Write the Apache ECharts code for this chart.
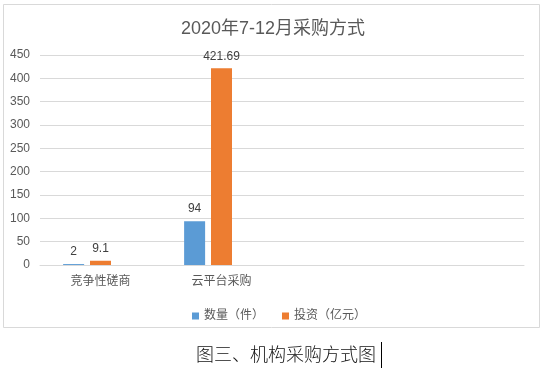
<!DOCTYPE html>
<html>
<head>
<meta charset="utf-8">
<script src="https://cdn.jsdelivr.net/npm/echarts@6/dist/echarts.min.js"></script>
<style>
html,body{margin:0;padding:0;background:#fff;}
#c{width:546px;height:375px;}
</style>
</head>
<body>
<div id="c"></div>
<script>
var titleText = '2020年7-12月采购方式';
var captionText = '图三、机构采购方式图';
var categories = ['竞争性磋商', '云平台采购', '', ''];
var countName = '数量（件）';
var countValues = [2, 94, null, null];
var investName = '投资（亿元）';
var investValues = [9.1, 421.69, null, null];
var hiddenValues = [null, null, null, null];
var yTicks = {min: 0, max: 450, interval: 50};

var FONT = "'Liberation Sans', 'Noto Sans CJK SC', sans-serif";
var chart = echarts.init(document.getElementById('c'), null, {renderer: 'canvas'});
var labelCfg = {show: true, position: 'top', distance: 6, color: '#404040', fontSize: 12, fontFamily: FONT};
chart.setOption({
  animation: false,
  backgroundColor: '#fff',
  title: {
    text: titleText, left: 'center', top: 15,
    textStyle: {fontSize: 18, fontWeight: 'normal', color: '#595959', fontFamily: FONT}
  },
  legend: {
    data: [countName, investName],
    left: 187, top: 305,
    icon: 'rect', itemWidth: 7, itemHeight: 7, itemGap: 18,
    textStyle: {fontSize: 12, color: '#595959', fontFamily: FONT}
  },
  grid: {left: 40, right: 22, top: 55, bottom: 110, containLabel: false},
  xAxis: {
    type: 'category', data: categories,
    axisLine: {lineStyle: {color: '#d9d9d9', width: 1}},
    axisTick: {show: false},
    axisLabel: {color: '#595959', fontSize: 12, margin: 11, fontFamily: FONT}
  },
  yAxis: {
    type: 'value', min: yTicks.min, max: yTicks.max, interval: yTicks.interval,
    axisLine: {show: false}, axisTick: {show: false},
    splitLine: {lineStyle: {color: '#d9d9d9', width: 1}},
    axisLabel: {color: '#595959', fontSize: 12, margin: 10, fontFamily: FONT}
  },
  series: [
    {name: countName, type: 'bar', data: countValues, barWidth: 21, barGap: '28%',
     itemStyle: {color: '#5B9BD5'}, label: labelCfg},
    {name: investName, type: 'bar', data: investValues, barWidth: 21, barGap: '28%',
     itemStyle: {color: '#ED7D31'}, label: labelCfg},
    {name: '_hidden', type: 'bar', data: hiddenValues, barWidth: 21, barGap: '28%',
     itemStyle: {color: '#A5A5A5'}}
  ],
  graphic: [
    {type: 'rect', shape: {x: 3.5, y: 4.5, width: 536, height: 323},
     style: {fill: null, stroke: '#d9d9d9', lineWidth: 1}, silent: true, z: -1},
    {type: 'text', left: 196, top: 345,
     style: {text: captionText, fontSize: 18, fill: '#111', fontFamily: "'Noto Sans CJK SC', sans-serif", fontWeight: 300}},
    {type: 'line', shape: {x1: 381.5, y1: 342, x2: 381.5, y2: 368},
     style: {stroke: '#000', lineWidth: 1}}
  ]
});
</script>
</body>
</html>
